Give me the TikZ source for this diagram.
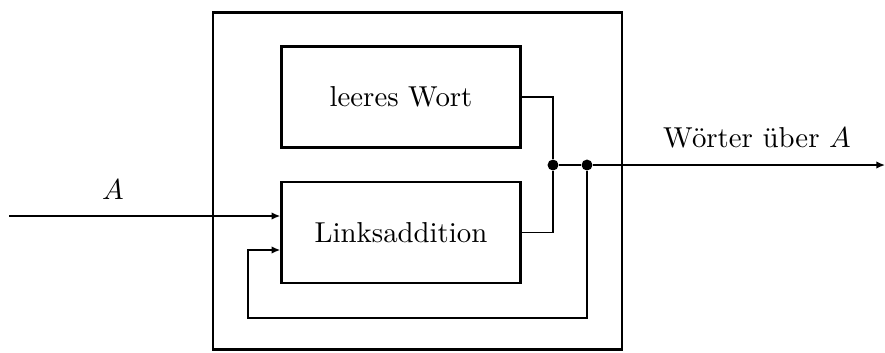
\documentclass[tikz,border=0pt]{standalone}
\usetikzlibrary{arrows.meta}
\begin{document}
\begin{tikzpicture}[x=0.347pt,y=-0.347pt,
  boxline/.style={line width=0.8pt},
  conn/.style={line width=0.55pt},
  tip/.style={-{Latex[length=3pt,width=2.6pt]}},
  blockbox/.style={draw,boxline,rectangle,minimum width=83pt,minimum height=35pt,inner sep=0pt},
  dotmark/.style={circle,fill,inner sep=0pt,minimum size=3.8pt}]
\useasboundingbox (0,0) rectangle (885,352);
\node[draw,boxline,rectangle,minimum width=142pt,minimum height=117pt,inner sep=0pt] (outer) at (417.5,181) {};
\node[blockbox] (leer) at (401,97) {leeres Wort};
\node[blockbox] (lnk) at (401,232.5) {Linksaddition};
\node[dotmark] (j1) at (553,165) {};
\node[dotmark] (j2) at (587,165) {};
\coordinate (in) at (9,216);
\coordinate (out) at (885,165);
\coordinate (fb) at (248,318);
\coordinate (fbin) at (281,250);
\node (alabel) at (113,190) {$A$};
\node (wlabel) at (757,138) {Wörter über $A$};
\draw[conn,tip] (in) -- (in -| lnk.west);
\draw[conn] (leer.east) -| (j1);
\draw[conn] (lnk.east) -| (j1);
\draw[conn] (j1) -- (j2);
\draw[conn,tip] (j2) -- (out);
\draw[conn,tip] (j2) |- (fb) |- (fbin -| lnk.west);
\end{tikzpicture}
\end{document}
